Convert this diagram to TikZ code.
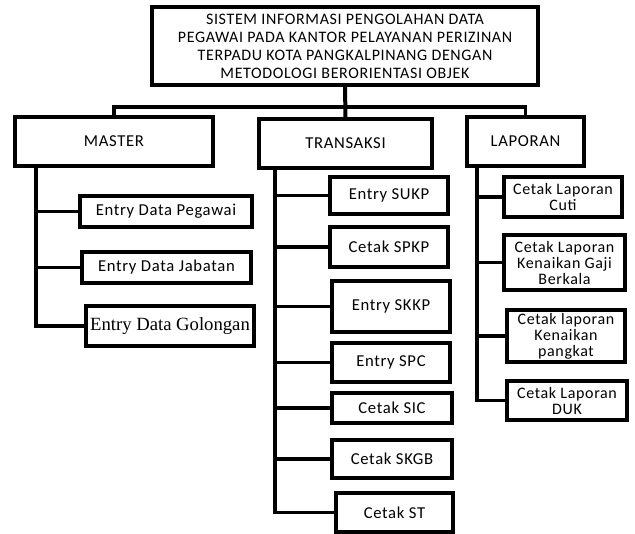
\documentclass[tikz,border=0pt]{standalone}
\usepackage{fontspec}
\setmainfont{Carlito}[LetterSpace=4]
\newfontfamily\golfont{Liberation Serif}
\begin{document}
\begin{tikzpicture}[x=0.75pt, y=-0.75pt,
    kotak/.style={draw, line width=2.3pt, inner sep=0pt, align=center,
        font=\fontsize{12.5}{12.5}\selectfont},
    garis/.style={line width=2.3pt}]
    \useasboundingbox (0,0) rectangle (635,533);
    % kotak utama
    \node[kotak, minimum width=289.5pt, minimum height=58.5pt,
        font=\fontsize{12}{13.5}\selectfont] (judul) at (345,46)
        {SISTEM INFORMASI PENGOLAHAN DATA\\PEGAWAI PADA KANTOR PELAYANAN PERIZINAN\\
        TERPADU KOTA PANGKALPINANG DENGAN\\METODOLOGI BERORIENTASI OBJEK};
    \node[kotak, minimum width=148.5pt, minimum height=36.75pt] (master) at (114,141.5) {MASTER};
    \node[kotak, minimum width=129.75pt, minimum height=36.75pt] (transaksi) at (345.5,143.5) {TRANSAKSI};
    \node[kotak, minimum width=87.75pt, minimum height=36.75pt] (laporan) at (525.5,141.5) {LAPORAN};
    % master
    \node[kotak, minimum width=129pt, minimum height=23.25pt] (pegawai) at (166,211.5) {Entry Data Pegawai};
    \node[kotak, minimum width=126.75pt, minimum height=23.25pt] (jabatan) at (166.5,267.5) {Entry Data Jabatan};
    \node[kotak, minimum width=126pt, minimum height=30pt,
        font=\golfont\fontsize{14}{14}\selectfont] (golongan) at (170,326) {Entry Data Golongan};
    % transaksi
    \node[kotak, minimum width=88.5pt, minimum height=27.75pt] (sukp) at (389,195.5) {Entry SUKP};
    \node[kotak, minimum width=88.5pt, minimum height=30pt] (spkp) at (389,247) {Cetak SPKP};
    \node[kotak, minimum width=88.5pt, minimum height=38.25pt] (skkp) at (391,306.5) {Entry SKKP};
    \node[kotak, minimum width=88.5pt, minimum height=29.25pt] (spc) at (391,362.5) {Entry SPC};
    \node[kotak, minimum width=90pt, minimum height=22.5pt] (sic) at (392,408) {Cetak SIC};
    \node[kotak, minimum width=90pt, minimum height=28.5pt] (skgb) at (392,459) {Cetak SKGB};
    \node[kotak, minimum width=87.75pt, minimum height=29.25pt] (st) at (394.5,512.5) {Cetak ST};
    % laporan
    \node[kotak, minimum width=88.5pt, minimum height=30pt,
        font=\fontsize{12}{12}\selectfont] (cuti) at (563,197) {Cetak Laporan\\Cuti};
    \node[kotak, minimum width=90.75pt, minimum height=41.25pt,
        font=\fontsize{12}{12}\selectfont] (gaji) at (564.5,262.5) {Cetak Laporan\\Kenaikan Gaji\\Berkala};
    \node[kotak, minimum width=88.5pt, minimum height=39pt,
        font=\fontsize{12}{12}\selectfont] (pangkat) at (566,336) {Cetak laporan\\Kenaikan\\pangkat};
    \node[kotak, minimum width=90pt, minimum height=29.25pt,
        font=\fontsize{12}{12}\selectfont] (duk) at (567,400.5) {Cetak Laporan\\DUK};
    % garis penghubung
    \coordinate (bus) at (0,107);
    \coordinate (mspine) at (36,0);
    \coordinate (tspine) at (275,0);
    \coordinate (lspine) at (477,0);
    \draw[garis, line width=3pt] (judul.south) -- (transaksi.north);
    \draw[garis] (master.north) |- (bus -| laporan.north) -- (laporan.north);
    \draw[garis] (master.south -| mspine) |- (golongan.west);
    \draw[garis] (transaksi.south -| tspine) |- (st.west);
    \draw[garis] (laporan.south -| lspine) |- (duk.west);
    \foreach \n in {pegawai,jabatan}
        \draw[garis] (mspine |- \n.west) -- (\n.west);
    \foreach \n in {sukp,spkp,skkp,spc,sic,skgb}
        \draw[garis] (tspine |- \n.west) -- (\n.west);
    \foreach \n in {cuti,gaji,pangkat}
        \draw[garis] (lspine |- \n.west) -- (\n.west);
\end{tikzpicture}
\end{document}
